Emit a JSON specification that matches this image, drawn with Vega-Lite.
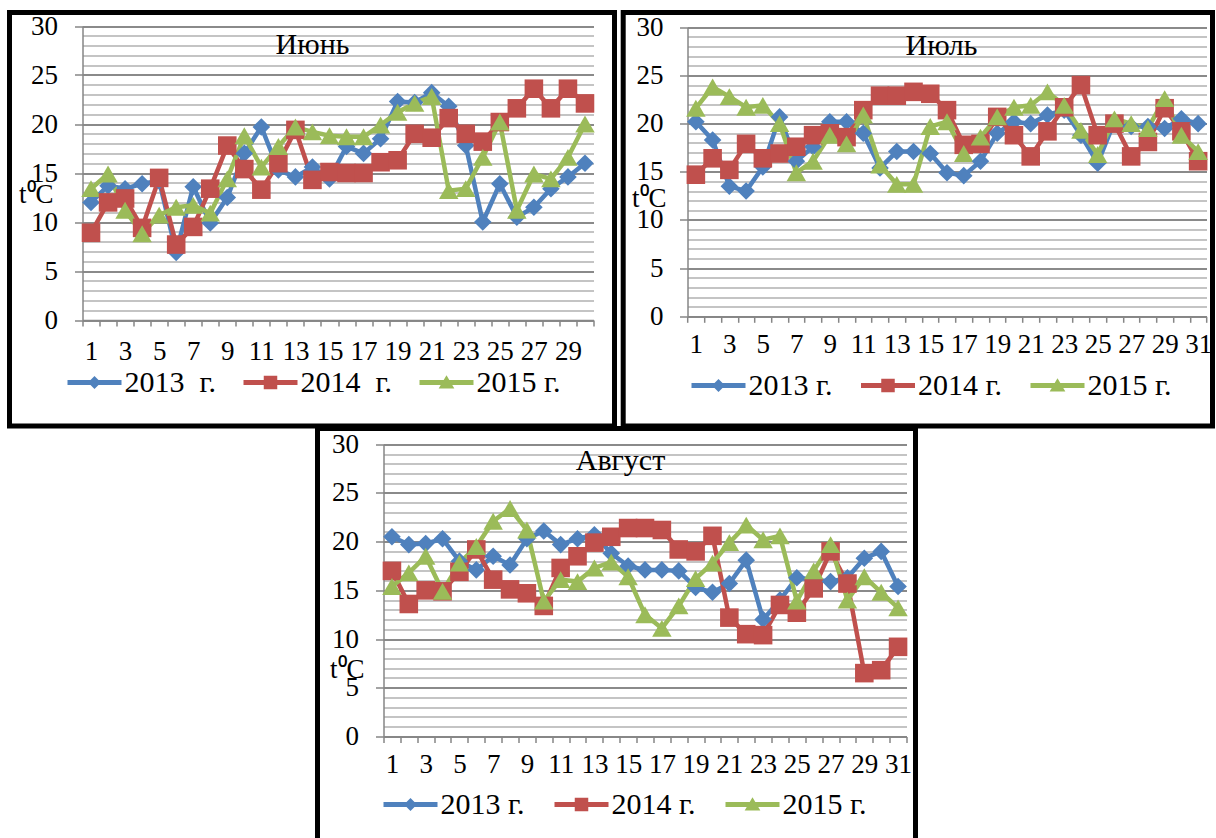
{
"$schema": "https://vega.github.io/schema/vega-lite/v6.json",
"background": "white",
"padding": {"left": 6.5, "top": 9.5, "right": 0, "bottom": 0},
"config": {
  "view": {"stroke": null},
  "font": "Liberation Serif",
  "axis": {"domainColor": "#868686", "domainWidth": 1.5, "tickColor": "#868686", "tickWidth": 1.5, "labelFont": "Liberation Serif", "labelFontSize": 27, "labelColor": "black", "titleFont": "Liberation Serif", "titleFontSize": 27, "titleFontWeight": "normal", "titleColor": "black"},
  "legend": {"labelFont": "Liberation Serif", "labelFontSize": 30, "labelColor": "black", "padding": 0, "labelLimit": 0},
  "title": {"font": "Liberation Serif", "fontSize": 30, "fontWeight": "normal", "color": "black"}
},
"datasets": {
"jun": [
{"day":1,"year":"2013","t":12.0},{"day":1,"year":"2014","t":8.9},{"day":1,"year":"2015","t":13.4},
{"day":2,"year":"2013","t":13.7},{"day":2,"year":"2014","t":12.0},{"day":2,"year":"2015","t":14.9},
{"day":3,"year":"2013","t":13.4},{"day":3,"year":"2014","t":12.4},{"day":3,"year":"2015","t":11.2},
{"day":4,"year":"2013","t":13.9},{"day":4,"year":"2014","t":9.4},{"day":4,"year":"2015","t":8.8},
{"day":5,"year":"2013","t":14.2},{"day":5,"year":"2014","t":14.5},{"day":5,"year":"2015","t":10.7},
{"day":6,"year":"2013","t":6.9},{"day":6,"year":"2014","t":7.7},{"day":6,"year":"2015","t":11.5},
{"day":7,"year":"2013","t":13.6},{"day":7,"year":"2014","t":9.5},{"day":7,"year":"2015","t":11.7},
{"day":8,"year":"2013","t":9.9},{"day":8,"year":"2014","t":13.4},{"day":8,"year":"2015","t":10.9},
{"day":9,"year":"2013","t":12.5},{"day":9,"year":"2014","t":17.8},{"day":9,"year":"2015","t":14.4},
{"day":10,"year":"2013","t":17.0},{"day":10,"year":"2014","t":15.4},{"day":10,"year":"2015","t":18.8},
{"day":11,"year":"2013","t":19.7},{"day":11,"year":"2014","t":13.3},{"day":11,"year":"2015","t":15.6},
{"day":12,"year":"2013","t":15.3},{"day":12,"year":"2014","t":16.0},{"day":12,"year":"2015","t":17.7},
{"day":13,"year":"2013","t":14.6},{"day":13,"year":"2014","t":19.4},{"day":13,"year":"2015","t":19.7},
{"day":14,"year":"2013","t":15.6},{"day":14,"year":"2014","t":14.3},{"day":14,"year":"2015","t":19.2},
{"day":15,"year":"2013","t":14.4},{"day":15,"year":"2014","t":15.1},{"day":15,"year":"2015","t":18.8},
{"day":16,"year":"2013","t":17.7},{"day":16,"year":"2014","t":15.0},{"day":16,"year":"2015","t":18.7},
{"day":17,"year":"2013","t":17.0},{"day":17,"year":"2014","t":15.0},{"day":17,"year":"2015","t":18.7},
{"day":18,"year":"2013","t":18.5},{"day":18,"year":"2014","t":16.1},{"day":18,"year":"2015","t":19.9},
{"day":19,"year":"2013","t":22.3},{"day":19,"year":"2014","t":16.3},{"day":19,"year":"2015","t":21.2},
{"day":20,"year":"2013","t":22.2},{"day":20,"year":"2014","t":19.0},{"day":20,"year":"2015","t":22.1},
{"day":21,"year":"2013","t":23.2},{"day":21,"year":"2014","t":18.6},{"day":21,"year":"2015","t":22.8},
{"day":22,"year":"2013","t":21.8},{"day":22,"year":"2014","t":20.6},{"day":22,"year":"2015","t":13.2},
{"day":23,"year":"2013","t":17.8},{"day":23,"year":"2014","t":19.0},{"day":23,"year":"2015","t":13.4},
{"day":24,"year":"2013","t":10.0},{"day":24,"year":"2014","t":18.2},{"day":24,"year":"2015","t":16.6},
{"day":25,"year":"2013","t":13.9},{"day":25,"year":"2014","t":20.2},{"day":25,"year":"2015","t":20.2},
{"day":26,"year":"2013","t":10.5},{"day":26,"year":"2014","t":21.6},{"day":26,"year":"2015","t":11.2},
{"day":27,"year":"2013","t":11.5},{"day":27,"year":"2014","t":23.6},{"day":27,"year":"2015","t":14.9},
{"day":28,"year":"2013","t":13.4},{"day":28,"year":"2014","t":21.6},{"day":28,"year":"2015","t":14.4},
{"day":29,"year":"2013","t":14.6},{"day":29,"year":"2014","t":23.6},{"day":29,"year":"2015","t":16.6},
{"day":30,"year":"2013","t":16.0},{"day":30,"year":"2014","t":22.1},{"day":30,"year":"2015","t":20.0}
],
"jul": [
{"day":1,"year":"2013","t":20.2},{"day":1,"year":"2014","t":14.7},{"day":1,"year":"2015","t":21.6},
{"day":2,"year":"2013","t":18.3},{"day":2,"year":"2014","t":16.4},{"day":2,"year":"2015","t":23.8},
{"day":3,"year":"2013","t":13.5},{"day":3,"year":"2014","t":15.2},{"day":3,"year":"2015","t":22.8},
{"day":4,"year":"2013","t":13.0},{"day":4,"year":"2014","t":17.9},{"day":4,"year":"2015","t":21.7},
{"day":5,"year":"2013","t":15.5},{"day":5,"year":"2014","t":16.4},{"day":5,"year":"2015","t":21.9},
{"day":6,"year":"2013","t":20.7},{"day":6,"year":"2014","t":16.9},{"day":6,"year":"2015","t":20.0},
{"day":7,"year":"2013","t":16.1},{"day":7,"year":"2014","t":17.6},{"day":7,"year":"2015","t":14.9},
{"day":8,"year":"2013","t":17.6},{"day":8,"year":"2014","t":18.8},{"day":8,"year":"2015","t":16.1},
{"day":9,"year":"2013","t":20.2},{"day":9,"year":"2014","t":19.0},{"day":9,"year":"2015","t":18.8},
{"day":10,"year":"2013","t":20.2},{"day":10,"year":"2014","t":18.6},{"day":10,"year":"2015","t":17.9},
{"day":11,"year":"2013","t":19.0},{"day":11,"year":"2014","t":21.4},{"day":11,"year":"2015","t":20.9},
{"day":12,"year":"2013","t":15.4},{"day":12,"year":"2014","t":22.9},{"day":12,"year":"2015","t":15.7},
{"day":13,"year":"2013","t":17.1},{"day":13,"year":"2014","t":22.9},{"day":13,"year":"2015","t":13.7},
{"day":14,"year":"2013","t":17.1},{"day":14,"year":"2014","t":23.3},{"day":14,"year":"2015","t":13.7},
{"day":15,"year":"2013","t":16.9},{"day":15,"year":"2014","t":23.1},{"day":15,"year":"2015","t":19.7},
{"day":16,"year":"2013","t":14.9},{"day":16,"year":"2014","t":21.4},{"day":16,"year":"2015","t":20.2},
{"day":17,"year":"2013","t":14.6},{"day":17,"year":"2014","t":17.8},{"day":17,"year":"2015","t":16.9},
{"day":18,"year":"2013","t":16.1},{"day":18,"year":"2014","t":17.9},{"day":18,"year":"2015","t":18.6},
{"day":19,"year":"2013","t":19.0},{"day":19,"year":"2014","t":20.7},{"day":19,"year":"2015","t":20.7},
{"day":20,"year":"2013","t":20.2},{"day":20,"year":"2014","t":18.8},{"day":20,"year":"2015","t":21.7},
{"day":21,"year":"2013","t":20.0},{"day":21,"year":"2014","t":16.6},{"day":21,"year":"2015","t":21.9},
{"day":22,"year":"2013","t":20.9},{"day":22,"year":"2014","t":19.2},{"day":22,"year":"2015","t":23.3},
{"day":23,"year":"2013","t":21.4},{"day":23,"year":"2014","t":21.7},{"day":23,"year":"2015","t":21.9},
{"day":24,"year":"2013","t":18.8},{"day":24,"year":"2014","t":24.0},{"day":24,"year":"2015","t":19.3},
{"day":25,"year":"2013","t":15.9},{"day":25,"year":"2014","t":18.8},{"day":25,"year":"2015","t":16.8},
{"day":26,"year":"2013","t":20.2},{"day":26,"year":"2014","t":20.0},{"day":26,"year":"2015","t":20.5},
{"day":27,"year":"2013","t":19.7},{"day":27,"year":"2014","t":16.6},{"day":27,"year":"2015","t":20.0},
{"day":28,"year":"2013","t":19.7},{"day":28,"year":"2014","t":18.1},{"day":28,"year":"2015","t":19.5},
{"day":29,"year":"2013","t":19.5},{"day":29,"year":"2014","t":21.6},{"day":29,"year":"2015","t":22.6},
{"day":30,"year":"2013","t":20.5},{"day":30,"year":"2014","t":19.2},{"day":30,"year":"2015","t":18.8},
{"day":31,"year":"2013","t":20.0},{"day":31,"year":"2014","t":16.1},{"day":31,"year":"2015","t":17.1}
],
"aug": [
{"day":1,"year":"2013","t":20.5},{"day":1,"year":"2014","t":17.0},{"day":1,"year":"2015","t":15.4},
{"day":2,"year":"2013","t":19.7},{"day":2,"year":"2014","t":13.6},{"day":2,"year":"2015","t":16.8},
{"day":3,"year":"2013","t":19.8},{"day":3,"year":"2014","t":15.0},{"day":3,"year":"2015","t":18.5},
{"day":4,"year":"2013","t":20.3},{"day":4,"year":"2014","t":14.9},{"day":4,"year":"2015","t":14.9},
{"day":5,"year":"2013","t":18.0},{"day":5,"year":"2014","t":16.9},{"day":5,"year":"2015","t":17.8},
{"day":6,"year":"2013","t":17.1},{"day":6,"year":"2014","t":19.2},{"day":6,"year":"2015","t":19.5},
{"day":7,"year":"2013","t":18.5},{"day":7,"year":"2014","t":16.1},{"day":7,"year":"2015","t":22.1},
{"day":8,"year":"2013","t":17.6},{"day":8,"year":"2014","t":15.1},{"day":8,"year":"2015","t":23.4},
{"day":9,"year":"2013","t":20.3},{"day":9,"year":"2014","t":14.7},{"day":9,"year":"2015","t":21.2},
{"day":10,"year":"2013","t":21.1},{"day":10,"year":"2014","t":13.4},{"day":10,"year":"2015","t":13.9},
{"day":11,"year":"2013","t":19.7},{"day":11,"year":"2014","t":17.3},{"day":11,"year":"2015","t":16.1},
{"day":12,"year":"2013","t":20.3},{"day":12,"year":"2014","t":18.5},{"day":12,"year":"2015","t":15.9},
{"day":13,"year":"2013","t":20.7},{"day":13,"year":"2014","t":19.9},{"day":13,"year":"2015","t":17.3},
{"day":14,"year":"2013","t":18.8},{"day":14,"year":"2014","t":20.5},{"day":14,"year":"2015","t":17.9},
{"day":15,"year":"2013","t":17.5},{"day":15,"year":"2014","t":21.4},{"day":15,"year":"2015","t":16.4},
{"day":16,"year":"2013","t":17.1},{"day":16,"year":"2014","t":21.4},{"day":16,"year":"2015","t":12.5},
{"day":17,"year":"2013","t":17.1},{"day":17,"year":"2014","t":21.2},{"day":17,"year":"2015","t":11.1},
{"day":18,"year":"2013","t":17.0},{"day":18,"year":"2014","t":19.2},{"day":18,"year":"2015","t":13.4},
{"day":19,"year":"2013","t":15.3},{"day":19,"year":"2014","t":19.0},{"day":19,"year":"2015","t":16.2},
{"day":20,"year":"2013","t":14.8},{"day":20,"year":"2014","t":20.6},{"day":20,"year":"2015","t":17.8},
{"day":21,"year":"2013","t":15.7},{"day":21,"year":"2014","t":12.2},{"day":21,"year":"2015","t":19.9},
{"day":22,"year":"2013","t":18.1},{"day":22,"year":"2014","t":10.5},{"day":22,"year":"2015","t":21.7},
{"day":23,"year":"2013","t":12.0},{"day":23,"year":"2014","t":10.4},{"day":23,"year":"2015","t":20.2},
{"day":24,"year":"2013","t":14.0},{"day":24,"year":"2014","t":13.5},{"day":24,"year":"2015","t":20.6},
{"day":25,"year":"2013","t":16.3},{"day":25,"year":"2014","t":12.7},{"day":25,"year":"2015","t":13.9},
{"day":26,"year":"2013","t":16.1},{"day":26,"year":"2014","t":15.2},{"day":26,"year":"2015","t":17.0},
{"day":27,"year":"2013","t":15.9},{"day":27,"year":"2014","t":19.0},{"day":27,"year":"2015","t":19.7},
{"day":28,"year":"2013","t":16.3},{"day":28,"year":"2014","t":15.7},{"day":28,"year":"2015","t":14.0},
{"day":29,"year":"2013","t":18.3},{"day":29,"year":"2014","t":6.5},{"day":29,"year":"2015","t":16.4},
{"day":30,"year":"2013","t":19.0},{"day":30,"year":"2014","t":6.8},{"day":30,"year":"2015","t":14.8},
{"day":31,"year":"2013","t":15.4},{"day":31,"year":"2014","t":9.2},{"day":31,"year":"2015","t":13.2}
]
},
"spacing": -5,
"resolve": {"scale": {"color": "independent", "shape": "independent", "size": "independent", "stroke": "independent"}, "legend": {"color": "independent"}},
"vconcat": [
{
  "spacing": 2.7,
  "resolve": {"scale": {"color": "independent", "shape": "independent", "size": "independent", "stroke": "independent"}, "legend": {"color": "independent"}},
  "hconcat": [
  {
    "data": {"name": "jun"},
    "width": 605, "height": 413.5,
    "view": {"stroke": "black", "strokeWidth": 5},
    "title": {"text": "Июнь", "anchor": "middle", "frame": "group", "dx": 0.5, "offset": 0, "dy": 63, "baseline": "middle"},
    "encoding": {
      "x": {"field": "day", "type": "quantitative", "scale": {"domain": [0.5, 30.5], "range": [73, 584], "nice": false, "zero": false},
        "axis": {"title": null, "grid": false, "offset": -106, "values": [0.5,1.5,2.5,3.5,4.5,5.5,6.5,7.5,8.5,9.5,10.5,11.5,12.5,13.5,14.5,15.5,16.5,17.5,18.5,19.5,20.5,21.5,22.5,23.5,24.5,25.5,26.5,27.5,28.5,29.5,30.5],
          "labelExpr": "((datum.value + 0.5) % 2 === 1 && datum.value < 30) ? '' + (datum.value + 0.5) : ''",
          "labelOffset": 8.5, "labelOverlap": false, "labelFlush": false, "tickSize": 6, "labelPadding": 12, "labelFont": "Liberation Serif", "labelFontSize": 27}},
      "y": {"field": "t", "type": "quantitative", "scale": {"domain": [0, 30], "range": [307.5, 13.5], "nice": false, "zero": true},
        "axis": {"title": "t⁰C", "titleAngle": 0, "titleX": -64, "titleY": 182, "titleAlign": "left", "titleBaseline": "middle", "offset": -73,
          "values": [0,1,2,3,4,5,6,7,8,9,10,11,12,13,14,15,16,17,18,19,20,21,22,23,24,25,26,27,28,29,30],
          "labelExpr": "datum.value % 5 === 0 ? datum.label : ''", "labelOverlap": false, "labelFlush": false, "labelFont": "Liberation Serif", "labelFontSize": 27,
          "tickSize": 8, "labelPadding": 17, "tickOpacity": {"condition": {"test": "datum.value % 5 === 0", "value": 1}, "value": 0},
          "grid": true, "gridColor": {"condition": {"test": "datum.value % 5 === 0", "value": "#8a8a8a"}, "value": "#c4c4c4"},
          "gridWidth": {"condition": {"test": "datum.value % 5 === 0", "value": 2}, "value": 1.8}}}
    },
    "layer": [
      {"mark": {"type": "line", "strokeWidth": 4.5},
       "encoding": {"stroke": {"field": "year", "type": "nominal", "scale": {"range": ["#4F81BD","#C0504D","#9BBB59"]}, "legend": null}}},
      {"mark": {"type": "point", "filled": true, "opacity": 1, "strokeWidth": 0},
       "encoding": {
         "color": {"field": "year", "type": "nominal", "scale": {"domain": ["2013","2014","2015"], "range": ["#4F81BD","#C0504D","#9BBB59"]},
           "legend": {"title": null, "orient": "none", "legendX": 58, "legendY": 343, "direction": "horizontal", "symbolSize": 2916, "symbolStrokeWidth": 0, "symbolOpacity": 1, "labelOffset": 3, "columnPadding": 27, "labelFont": "Liberation Serif", "labelFontSize": 30,
             "labelExpr": "datum.value === '2015' ? '2015\u00a0г.' : datum.value + '\u00a0\u00a0г.'",
             "encode": {"symbols": {"update": {"shape": {"signal": "datum.value === '2013' ? 'M-1,-0.09L1,-0.09L1,0.09L-1,0.09ZM0,-0.24L0.24,0L0,0.24L-0.24,0Z' : datum.value === '2014' ? 'M-1,-0.09L1,-0.09L1,0.09L-1,0.09ZM-0.25,-0.25L0.25,-0.25L0.25,0.25L-0.25,0.25Z' : 'M-1,-0.09L1,-0.09L1,0.09L-1,0.09ZM0,-0.27L0.29,0.22L-0.29,0.22Z'"}}}}}},
         "shape": {"field": "year", "type": "nominal", "scale": {"range": ["diamond","square","triangle-up"]}, "legend": null},
         "size": {"field": "year", "type": "nominal", "scale": {"range": [310, 380, 420]}, "legend": null}
       }}
    ]
  },
  {
    "data": {"name": "jul"},
    "width": 589.3, "height": 413.5,
    "view": {"stroke": "black", "strokeWidth": 5},
    "title": {"text": "Июль", "anchor": "middle", "frame": "group", "dx": 23.6, "offset": 0, "dy": 63, "baseline": "middle"},
    "encoding": {
      "x": {"field": "day", "type": "quantitative", "scale": {"domain": [0.5, 31.5], "range": [64.3, 583.3], "nice": false, "zero": false},
        "axis": {"title": null, "grid": false, "offset": -109.7, "values": [0.5,1.5,2.5,3.5,4.5,5.5,6.5,7.5,8.5,9.5,10.5,11.5,12.5,13.5,14.5,15.5,16.5,17.5,18.5,19.5,20.5,21.5,22.5,23.5,24.5,25.5,26.5,27.5,28.5,29.5,30.5,31.5],
          "labelExpr": "((datum.value + 0.5) % 2 === 1) ? '' + (datum.value + 0.5) : ''",
          "labelOffset": 8.37, "labelOverlap": false, "labelFlush": false, "tickSize": 6, "labelPadding": 8.7, "labelFont": "Liberation Serif", "labelFontSize": 27}},
      "y": {"field": "t", "type": "quantitative", "scale": {"domain": [0, 30], "range": [303.8, 14.8], "nice": false, "zero": true},
        "axis": {"title": "t⁰C", "titleAngle": 0, "titleX": -56, "titleY": 186, "titleAlign": "left", "titleBaseline": "middle", "offset": -64.3,
          "values": [0,1,2,3,4,5,6,7,8,9,10,11,12,13,14,15,16,17,18,19,20,21,22,23,24,25,26,27,28,29,30],
          "labelExpr": "datum.value % 5 === 0 ? datum.label : ''", "labelOverlap": false, "labelFlush": false, "labelFont": "Liberation Serif", "labelFontSize": 27,
          "tickSize": 8, "labelPadding": 16.6, "tickOpacity": {"condition": {"test": "datum.value % 5 === 0", "value": 1}, "value": 0},
          "grid": true, "gridColor": {"condition": {"test": "datum.value % 5 === 0", "value": "#8a8a8a"}, "value": "#c4c4c4"},
          "gridWidth": {"condition": {"test": "datum.value % 5 === 0", "value": 2}, "value": 1.8}}}
    },
    "layer": [
      {"mark": {"type": "line", "strokeWidth": 4.5},
       "encoding": {"stroke": {"field": "year", "type": "nominal", "scale": {"range": ["#4F81BD","#C0504D","#9BBB59"]}, "legend": null}}},
      {"mark": {"type": "point", "filled": true, "opacity": 1, "strokeWidth": 0},
       "encoding": {
         "color": {"field": "year", "type": "nominal", "scale": {"domain": ["2013","2014","2015"], "range": ["#4F81BD","#C0504D","#9BBB59"]},
           "legend": {"title": null, "orient": "none", "legendX": 68.3, "legendY": 346, "direction": "horizontal", "symbolSize": 2916, "symbolStrokeWidth": 0, "symbolOpacity": 1, "labelOffset": 3, "columnPadding": 28.5, "labelFont": "Liberation Serif", "labelFontSize": 30,
             "labelExpr": "datum.value + '\u00a0г.'",
             "encode": {"symbols": {"update": {"shape": {"signal": "datum.value === '2013' ? 'M-1,-0.09L1,-0.09L1,0.09L-1,0.09ZM0,-0.24L0.24,0L0,0.24L-0.24,0Z' : datum.value === '2014' ? 'M-1,-0.09L1,-0.09L1,0.09L-1,0.09ZM-0.25,-0.25L0.25,-0.25L0.25,0.25L-0.25,0.25Z' : 'M-1,-0.09L1,-0.09L1,0.09L-1,0.09ZM0,-0.27L0.29,0.22L-0.29,0.22Z'"}}}}}},
         "shape": {"field": "year", "type": "nominal", "scale": {"range": ["diamond","square","triangle-up"]}, "legend": null},
         "size": {"field": "year", "type": "nominal", "scale": {"range": [310, 380, 420]}, "legend": null}
       }}
    ]
  }
  ]
},
{
  "spacing": 0,
  "resolve": {"scale": {"color": "independent", "shape": "independent", "size": "independent", "stroke": "independent"}, "legend": {"color": "independent"}},
  "hconcat": [
  {"width": 304, "height": 1, "data": {"values": []}, "mark": "point"},
  {
    "data": {"name": "aug"},
    "width": 598, "height": 410,
    "view": {"stroke": "black", "strokeWidth": 5, "strokeDash": [1008, 598, 410], "strokeCap": "square"},
    "title": {"text": "Август", "anchor": "middle", "frame": "group", "dx": 4, "offset": 0, "dy": 62, "baseline": "middle"},
    "encoding": {
      "x": {"field": "day", "type": "quantitative", "scale": {"domain": [0.5, 31.5], "range": [66, 589], "nice": false, "zero": false},
        "axis": {"title": null, "grid": false, "offset": -102.1, "values": [0.5,1.5,2.5,3.5,4.5,5.5,6.5,7.5,8.5,9.5,10.5,11.5,12.5,13.5,14.5,15.5,16.5,17.5,18.5,19.5,20.5,21.5,22.5,23.5,24.5,25.5,26.5,27.5,28.5,29.5,30.5,31.5],
          "labelExpr": "((datum.value + 0.5) % 2 === 1) ? '' + (datum.value + 0.5) : ''",
          "labelOffset": 8.44, "labelOverlap": false, "labelFlush": false, "tickSize": 6, "labelPadding": 9, "labelFont": "Liberation Serif", "labelFontSize": 27}},
      "y": {"field": "t", "type": "quantitative", "scale": {"domain": [0, 30], "range": [307.9, 15.8], "nice": false, "zero": true},
        "axis": {"title": "t⁰C", "titleAngle": 0, "titleX": -54, "titleY": 240.5, "titleAlign": "left", "titleBaseline": "middle", "offset": -66,
          "values": [0,1,2,3,4,5,6,7,8,9,10,11,12,13,14,15,16,17,18,19,20,21,22,23,24,25,26,27,28,29,30],
          "labelExpr": "datum.value % 5 === 0 ? datum.label : ''", "labelOverlap": false, "labelFlush": false, "labelFont": "Liberation Serif", "labelFontSize": 27,
          "tickSize": 8, "labelPadding": 17, "tickOpacity": {"condition": {"test": "datum.value % 5 === 0", "value": 1}, "value": 0},
          "grid": true, "gridColor": {"condition": {"test": "datum.value % 5 === 0", "value": "#8a8a8a"}, "value": "#c4c4c4"},
          "gridWidth": {"condition": {"test": "datum.value % 5 === 0", "value": 2}, "value": 1.8}}}
    },
    "layer": [
      {"mark": {"type": "line", "strokeWidth": 4.5},
       "encoding": {"stroke": {"field": "year", "type": "nominal", "scale": {"range": ["#4F81BD","#C0504D","#9BBB59"]}, "legend": null}}},
      {"mark": {"type": "point", "filled": true, "opacity": 1, "strokeWidth": 0},
       "encoding": {
         "color": {"field": "year", "type": "nominal", "scale": {"domain": ["2013","2014","2015"], "range": ["#4F81BD","#C0504D","#9BBB59"]},
           "legend": {"title": null, "orient": "none", "legendX": 66, "legendY": 349, "direction": "horizontal", "symbolSize": 2916, "symbolStrokeWidth": 0, "symbolOpacity": 1, "labelOffset": 3, "columnPadding": 30, "labelFont": "Liberation Serif", "labelFontSize": 30,
             "labelExpr": "datum.value + '\u00a0г.'",
             "encode": {"symbols": {"update": {"shape": {"signal": "datum.value === '2013' ? 'M-1,-0.09L1,-0.09L1,0.09L-1,0.09ZM0,-0.24L0.24,0L0,0.24L-0.24,0Z' : datum.value === '2014' ? 'M-1,-0.09L1,-0.09L1,0.09L-1,0.09ZM-0.25,-0.25L0.25,-0.25L0.25,0.25L-0.25,0.25Z' : 'M-1,-0.09L1,-0.09L1,0.09L-1,0.09ZM0,-0.27L0.29,0.22L-0.29,0.22Z'"}}}}}},
         "shape": {"field": "year", "type": "nominal", "scale": {"range": ["diamond","square","triangle-up"]}, "legend": null},
         "size": {"field": "year", "type": "nominal", "scale": {"range": [310, 380, 420]}, "legend": null}
       }}
    ]
  }
  ]
}
]
}
